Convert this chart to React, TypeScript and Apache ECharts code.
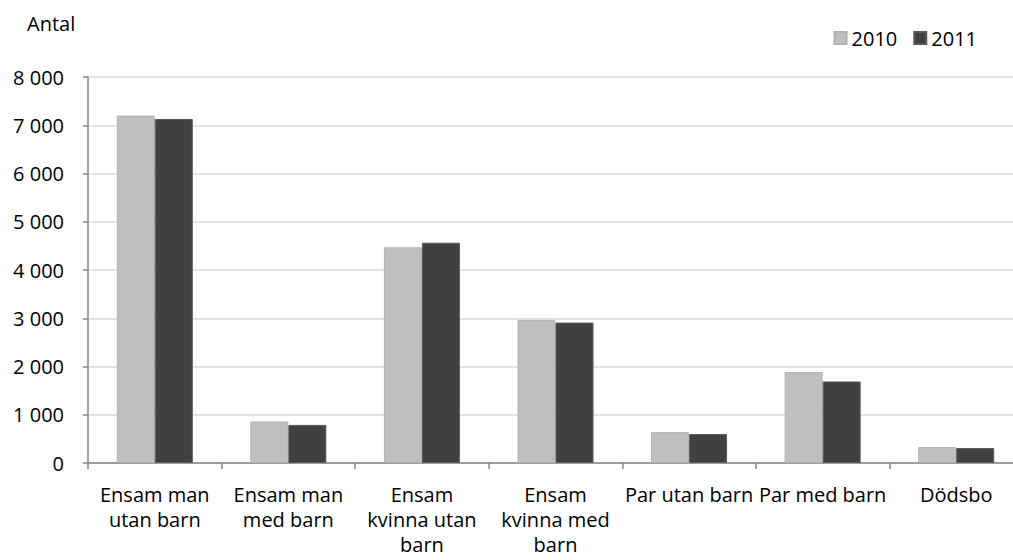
import React, { useEffect, useRef } from "react";
import * as echarts from "echarts";

const categories = [
  "Ensam man\nutan barn",
  "Ensam man\nmed barn",
  "Ensam\nkvinna utan\nbarn",
  "Ensam\nkvinna med\nbarn",
  "Par utan barn",
  "Par med barn",
  "Dödsbo",
];
const values2010 = [7200, 860, 4470, 2965, 640, 1885, 330];
const values2011 = [7130, 790, 4565, 2910, 600, 1690, 310];
const seriesNames = ["2010", "2011"];
const yTicks = { min: 0, max: 8000, interval: 1000 };

const FONT = "Open Sans";
const CHART_W = 1040;

function fmt(v: number): string {
  return String(v).replace(/\B(?=(\d{3})+(?!\d))/g, " ");
}

export default function App() {
  const ref = useRef<HTMLDivElement>(null);
  useEffect(() => {
    if (!ref.current) return;
    const chart = echarts.init(ref.current, undefined, { renderer: "svg" });
    chart.setOption({
      animation: false,
      backgroundColor: "#ffffff",
      textStyle: { fontFamily: FONT, color: "#000" },
      graphic: [
        {
          type: "text",
          left: 27,
          top: 13,
          style: { text: "Antal", fontFamily: FONT, fontSize: 20, fill: "#000" },
        },
      ],
      legend: {
        data: seriesNames,
        right: CHART_W - 982,
        top: 23,
        icon: "rect",
        itemWidth: 12,
        itemHeight: 12,
        itemGap: 16,
        textStyle: { fontFamily: FONT, fontSize: 20, color: "#000", padding: [0, 0, 0, 0] },
      },
      grid: { left: 88, top: 77, width: 935, height: 386, containLabel: false },
      xAxis: {
        type: "category",
        data: categories,
        axisLine: { show: true, lineStyle: { color: "#868686", width: 1.5 } },
        axisTick: { show: true, length: 6, lineStyle: { color: "#868686", width: 1.5 } },
        axisLabel: {
          interval: 0,
          margin: 19,
          fontFamily: FONT,
          fontSize: 20,
          color: "#000",
          lineHeight: 25,
        },
      },
      yAxis: {
        type: "value",
        min: yTicks.min,
        max: yTicks.max,
        interval: yTicks.interval,
        axisLine: { show: true, lineStyle: { color: "#868686", width: 1.5 } },
        axisTick: { show: true, length: 5, lineStyle: { color: "#868686", width: 1.5 } },
        splitLine: { show: true, lineStyle: { color: "#d9d9d9", width: 1.5 } },
        axisLabel: {
          margin: 24,
          fontFamily: FONT,
          fontSize: 20,
          color: "#000",
          formatter: (v: number) => fmt(v),
        },
      },
      series: [
        {
          name: seriesNames[0],
          type: "bar",
          data: values2010,
          barWidth: 38,
          barGap: "0%",
          itemStyle: { color: "#bfbfbf", borderColor: "#b3b3b3", borderWidth: 1 },
        },
        {
          name: seriesNames[1],
          type: "bar",
          data: values2011,
          barWidth: 38,
          barGap: "0%",
          itemStyle: { color: "#404040", borderColor: "#5a5a5a", borderWidth: 1 },
        },
      ],
    });
    return () => chart.dispose();
  }, []);
  return (
    <div style={{ position: "absolute", left: 0, top: 0, width: 1013, height: 560, overflow: "hidden" }}>
      <div ref={ref} style={{ width: CHART_W, height: 560 }} />
    </div>
  );
}
